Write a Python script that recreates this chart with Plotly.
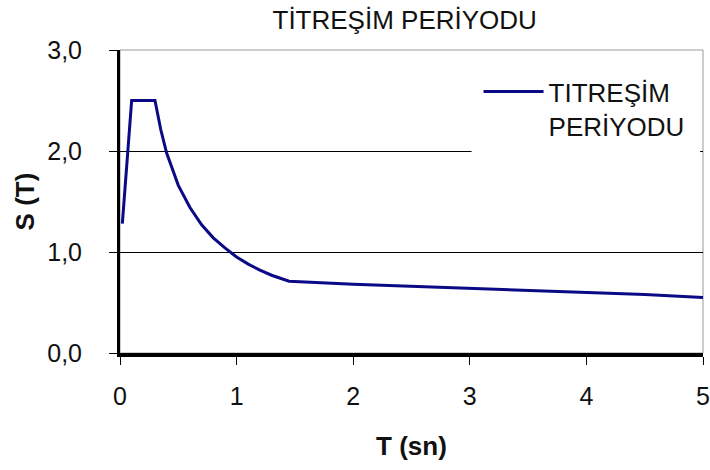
import plotly.graph_objects as go

T_sn = [0.02, 0.04, 0.06, 0.08, 0.10, 0.30, 0.35, 0.40, 0.50, 0.60, 0.70, 0.80, 0.90,
        1.00, 1.10, 1.20, 1.30, 1.40, 1.45, 2.00, 2.50, 3.00, 3.50, 4.00, 4.50, 5.00]
S_T = [1.28, 1.60, 1.90, 2.20, 2.50, 2.50, 2.21, 1.98, 1.66, 1.44, 1.27, 1.14, 1.04,
       0.95, 0.88, 0.82, 0.77, 0.73, 0.71, 0.68, 0.66, 0.64, 0.62, 0.60, 0.58, 0.55]

x_ticks = [0, 1, 2, 3, 4, 5]
y_ticks = [0, 1, 2, 3]

FONT = "Liberation Sans, Arial, sans-serif"

fig = go.Figure()
fig.add_trace(go.Scatter(
    x=T_sn, y=S_T, mode="lines",
    name="TITREŞİM<br>PERİYODU",
    line=dict(color="#0a0a86", width=3),
))

# light-grey frame on top/right of plot area
fig.add_shape(type="rect", xref="x domain", yref="y domain", x0=0, x1=1, y0=0, y1=1,
              line=dict(color="#9a9a9a", width=1), layer="below")
# white legend backdrop hiding the gridline under the legend
fig.add_shape(type="rect", xref="x domain", yref="y domain", x0=0.603, x1=0.995,
              y0=0.61, y1=0.94, line=dict(width=0), fillcolor="white", layer="above")

fig.update_layout(
    width=710, height=470,
    margin=dict(l=120, r=7, t=50, b=117),
    paper_bgcolor="white", plot_bgcolor="white",
    separators=", ",
    font=dict(family=FONT, size=24, color="#111111"),
    title=dict(text="TİTREŞİM PERİYODU", x=0.570, xanchor="center", y=0.958, yanchor="middle",
               font=dict(family=FONT, size=26, color="#111111")),
    showlegend=True,
    legend=dict(x=0.615, y=0.94, xanchor="left", yanchor="top", bgcolor="rgba(0,0,0,0)",
                borderwidth=0, valign="top", font=dict(family=FONT, size=26, color="#111111"),
                itemwidth=60),
    xaxis=dict(range=[0, 5], tickvals=x_ticks, ticks="outside", ticklen=8, tickwidth=1,
               tickcolor="black", showline=True, linecolor="black", linewidth=4,
               showgrid=False, zeroline=False, ticklabeloverflow="allow",
               ticklabelstandoff=10, automargin=False,
               tickfont=dict(family=FONT, size=25),
               title=dict(text="<b>T (sn)</b>", standoff=29,
                          font=dict(family=FONT, size=26))),
    yaxis=dict(range=[0, 3], tickvals=y_ticks, tickformat=".1f", ticks="outside", ticklen=8,
               tickwidth=1, tickcolor="black", showline=True, linecolor="black", linewidth=3,
               showgrid=True, gridcolor="black", gridwidth=1, zeroline=False,
               ticklabelstandoff=22, ticklabeloverflow="allow", automargin=False,
               tickfont=dict(family=FONT, size=25),
               title=dict(text="<b>S (T)</b>", standoff=6,
                          font=dict(family=FONT, size=26))),
)

fig.write_html("out.html")
